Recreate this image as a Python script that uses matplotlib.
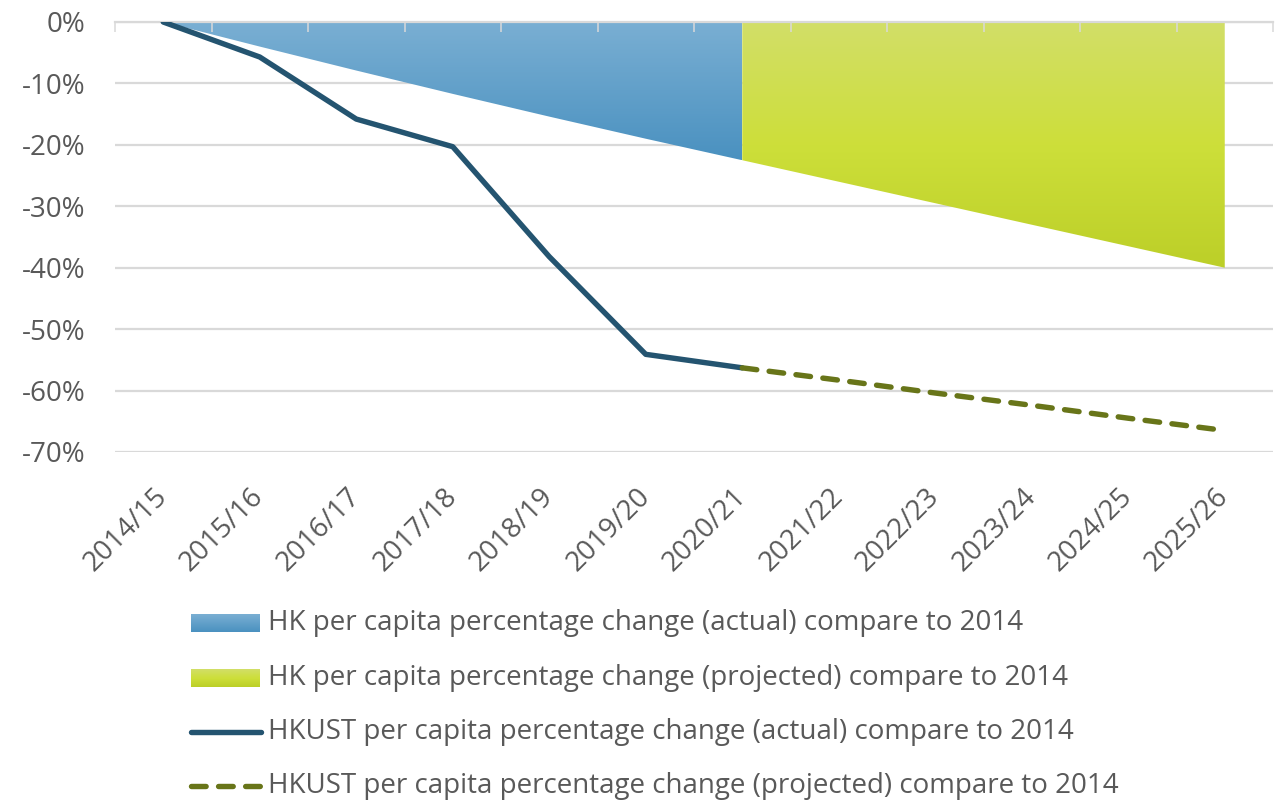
import numpy as np
import matplotlib.pyplot as plt
from matplotlib.ticker import FuncFormatter
from matplotlib.colors import LinearSegmentedColormap

plt.rcParams['font.family'] = ['Open Sans', 'DejaVu Sans']

years = ['2014/15', '2015/16', '2016/17', '2017/18', '2018/19', '2019/20',
         '2020/21', '2021/22', '2022/23', '2023/24', '2024/25', '2025/26']

# HK per capita change vs 2014 (%)
hk_actual = [0, -4.0, -7.9, -11.7, -15.4, -19.0, -22.5]
hk_projected = [-22.5, -26.0, -29.5, -33.0, -36.5, -40.0]
# HKUST per capita change vs 2014 (%)
ust_actual = [0, -5.7, -15.8, -20.3, -38.2, -54.1, -56.3]
ust_projected = [-56.3, -58.3, -60.4, -62.4, -64.5, -66.5]

labels = ['HK per capita percentage change (actual) compare to 2014',
          'HK per capita percentage change (projected) compare to 2014',
          'HKUST per capita percentage change (actual) compare to 2014',
          'HKUST per capita percentage change (projected) compare to 2014']

TXT = '#595959'
GRID = '#d9d9d9'
LINE_C = '#245470'
DASH_C = '#687519'
FS = 20
LW = 3.9
DASH = (0, (2.7, 2.3))
blue_cm = LinearSegmentedColormap.from_list('b', ['#7aafd3', '#4a91c0'])
green_cm = LinearSegmentedColormap.from_list('g', ['#d2de68', '#cddf3a', '#bccf28'])
grad = np.linspace(0, 1, 256).reshape(-1, 1)

fig = plt.figure(figsize=(12.83, 8.01), dpi=100)
ax = fig.add_axes([115 / 1283, 1 - 452 / 801, 1158 / 1283, 430 / 801])

x = np.arange(len(years))
xa = x[:len(hk_actual)]
xp = x[len(hk_actual) - 1:]


def gradient_fill(xs, ys, cmap):
    poly = ax.fill_between(xs, 0, ys, color='none', lw=0, zorder=2)
    im = ax.imshow(grad, cmap=cmap, aspect='auto', zorder=2,
                   extent=[xs[0], xs[-1], min(ys), 0], origin='upper')
    im.set_clip_path(poly.get_paths()[0], transform=ax.transData)


gradient_fill(xa, hk_actual, blue_cm)
gradient_fill(xp, hk_projected, green_cm)

ax.plot(xa, ust_actual, color=LINE_C, lw=LW, solid_capstyle='round',
        solid_joinstyle='round', zorder=4)
ax.plot(xp, ust_projected, color=DASH_C, lw=LW, ls=DASH,
        dash_capstyle='round', zorder=5)

ax.set_xlim(-0.5, len(years) - 0.5)
ax.set_ylim(-70, 0)
ax.set_yticks(np.arange(-70, 1, 10))
ax.yaxis.set_major_formatter(FuncFormatter(lambda v, p: f'{v:.0f}%'))
ax.yaxis.grid(True, color=GRID, lw=1.6, zorder=1)
ax.set_axisbelow(True)

ax.set_xticks(x)
ax.set_xticklabels(years, rotation=45, ha='right', va='center',
                   rotation_mode='anchor')
ax.set_xticks(np.arange(-0.5, len(years), 1), minor=True)
ax.tick_params(axis='x', which='major', length=0, pad=29, labelsize=FS,
               labelcolor=TXT)
ax.tick_params(axis='x', which='minor', top=True, bottom=False,
               direction='in', length=7, width=1.1, color=GRID)
ax.tick_params(axis='y', length=0, pad=21, labelsize=FS, labelcolor=TXT)

for s in ['left', 'right', 'bottom']:
    ax.spines[s].set_visible(False)
ax.spines['top'].set_color(GRID)
ax.spines['top'].set_linewidth(1.6)
ax.spines['top'].set_zorder(3)
ax.xaxis.set_zorder(3)

# legend drawn in pixel coords
lg = fig.add_axes([0, 0, 1, 1])
lg.set_xlim(0, 1283)
lg.set_ylim(801, 0)
lg.axis('off')
rows = [623, 678, 732, 786]
lg.imshow(grad, cmap=blue_cm, aspect='auto', extent=[191, 260, rows[0] + 9, rows[0] - 9])
lg.imshow(grad, cmap=green_cm, aspect='auto', extent=[191, 260, rows[1] + 9, rows[1] - 9])
lg.plot([191, 261], [rows[2]] * 2, color=LINE_C, lw=LW, solid_capstyle='round')
lg.plot([191, 261], [rows[3]] * 2, color=DASH_C, lw=LW, ls=DASH,
        dash_capstyle='round')
lg.set_xlim(0, 1283)
lg.set_ylim(801, 0)
for r, t in zip(rows, labels):
    lg.text(268, r, t, fontsize=FS, color=TXT, va='center', ha='left')

fig.savefig('out.png', dpi=100)
